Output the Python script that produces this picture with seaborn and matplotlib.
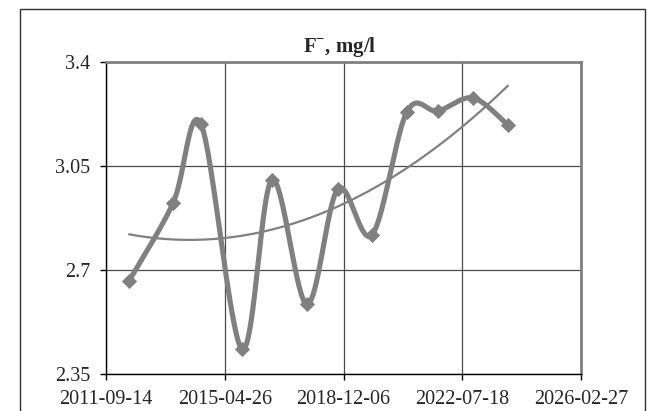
import numpy as np
import pandas as pd
import matplotlib
matplotlib.use("Agg")
import matplotlib.pyplot as plt
import matplotlib.dates as mdates
from matplotlib.patches import Rectangle
import seaborn as sns

# Sampling dates and fluoride concentrations
sample_dates = ["2012-05-27", "2013-09-28", "2014-08-05", "2015-11-03",
                "2016-10-01", "2017-10-25", "2018-10-05", "2019-10-18",
                "2020-11-09", "2021-10-20", "2022-11-13", "2023-12-07"]
fluoride = [2.663, 2.925, 3.191, 2.434, 3.003, 2.585, 2.973, 2.818,
            3.232, 3.235, 3.279, 3.188]

tick_dates = ["2011-09-14", "2015-04-26", "2018-12-06", "2022-07-18", "2026-02-27"]
y_ticks = [2.35, 2.7, 3.05, 3.4]
y_tick_labels = ["2.35", "2.7", "3.05", "3.4"]
title_text = r"F$^{\mathbf{-}}$, mg/l"

sns.set_theme(style="white")
plt.rcParams["font.family"] = ["Liberation Serif", "DejaVu Serif"]
plt.rcParams["mathtext.fontset"] = "custom"
plt.rcParams["mathtext.rm"] = "Liberation Serif"
plt.rcParams["mathtext.bf"] = "Liberation Serif:bold"

x = mdates.date2num(pd.to_datetime(sample_dates))
y = np.array(fluoride)


def smooth_curve(px, py, n=40):
    """Piecewise cubic Bezier through the points (Catmull-Rom style)."""
    pts = np.column_stack([px, py])
    ext = np.vstack([pts[0], pts, pts[-1]])
    out = []
    t = np.linspace(0, 1, n)[:, None]
    for i in range(1, len(ext) - 2):
        p0, p1, p2, p3 = ext[i - 1], ext[i], ext[i + 1], ext[i + 2]
        c1 = p1 + (p2 - p0) / 6.0
        c2 = p2 - (p3 - p1) / 6.0
        seg = ((1 - t) ** 3) * p1 + 3 * ((1 - t) ** 2) * t * c1 \
            + 3 * (1 - t) * t ** 2 * c2 + t ** 3 * p2
        out.append(seg if i == 1 else seg[1:])
    curve = np.vstack(out)
    return curve[:, 0], curve[:, 1]


cx, cy = smooth_curve(x, y)
curve_df = pd.DataFrame({"date": cx, "value": cy})
points_df = pd.DataFrame({"date": x, "value": y})

# Second-order polynomial trend over the sampling period
coef = np.polyfit(x - x[0], y, 2)
tx = np.linspace(x[0], x[-1], 200)
trend_df = pd.DataFrame({"date": tx, "value": np.polyval(coef, tx - x[0])})

fig = plt.figure(figsize=(6.54, 4.11), dpi=100)
fig.patch.set_facecolor("white")
fig.patches.append(Rectangle((20 / 654, -0.05), 625 / 654, 1.05 - 9 / 411,
                             transform=fig.transFigure, fill=False,
                             edgecolor="#303030", linewidth=1.0))

ax = fig.add_axes([106 / 654, (411 - 374) / 411, 475 / 654, 312 / 411])
ax.set_facecolor("white")

grey = "#808080"
sns.lineplot(data=curve_df, x="date", y="value", ax=ax, color=grey,
             linewidth=3.7, sort=False, estimator=None, zorder=3)
sns.scatterplot(data=points_df, x="date", y="value", ax=ax, marker="D",
                s=60, color=grey, edgecolor=grey, linewidth=0, zorder=4)
sns.lineplot(data=trend_df, x="date", y="value", ax=ax, color=grey,
             linewidth=1.6, sort=False, estimator=None, zorder=2)

xt = mdates.date2num(pd.to_datetime(tick_dates))
ax.set_xlim(xt[0], xt[-1])
ax.set_ylim(y_ticks[0], y_ticks[-1])
ax.set_xticks(xt)
ax.set_xticklabels(tick_dates)
ax.set_yticks(y_ticks)
ax.set_yticklabels(y_tick_labels)
ax.set_xlabel("")
ax.set_ylabel("")

ax.grid(True, color="#4a4a4a", linewidth=0.9)
ax.set_axisbelow(True)
for side in ("top", "right"):
    ax.spines[side].set_color(grey)
    ax.spines[side].set_linewidth(2.0)
for side in ("left", "bottom"):
    ax.spines[side].set_color("black")
    ax.spines[side].set_linewidth(1.0)

ax.tick_params(axis="x", direction="out", length=4.5, width=1, color="black",
               labelsize=14.5, pad=7, bottom=True)
ax.tick_params(axis="y", direction="out", length=4.5, width=1, color="black",
               labelsize=14.5, pad=7, left=True)

fig.text(340 / 654, 1 - 52 / 411, title_text, ha="center", va="baseline",
         fontsize=15, fontweight="bold")

fig.savefig("out.png", dpi=100)
